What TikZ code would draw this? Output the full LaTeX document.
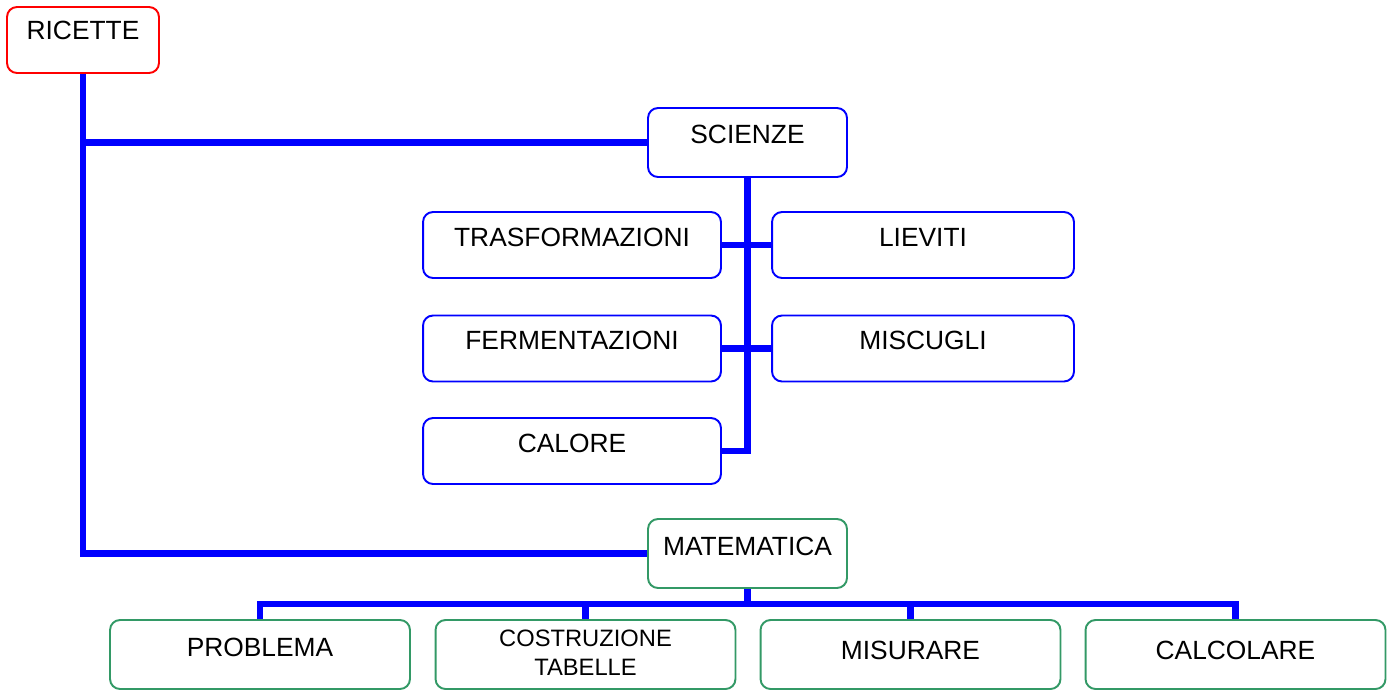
\documentclass[tikz,border=0pt]{standalone}
\usepackage{fontspec}
\setmainfont{Liberation Sans}
\usetikzlibrary{math}
\definecolor{myblue}{RGB}{0,0,255}
\definecolor{myred}{RGB}{255,0,0}
\definecolor{mygreen}{RGB}{51,153,102}

\begin{document}
\begin{tikzpicture}[x=0.02cm, y=-0.02cm]
\tikzset{
  box/.style={draw, fill=white, rounded corners=0.2cm, line width=1.1pt, inner sep=0pt,
    text height=0.68cm, text depth=0.64cm, font=\fontsize{15}{18}\selectfont},
  rootbox/.style={box, draw=myred, minimum width=3.04cm},
  scibox/.style={box, draw=myblue, minimum width=5.96cm},
  matbox/.style={box, draw=mygreen, minimum width=6cm, text height=0.74cm, text depth=0.64cm},
  link/.style={draw=myblue, line width=3.6pt},
}
\useasboundingbox (0,0) rectangle (1395,690);

% radice
\node[rootbox, text height=0.64cm, text depth=0.68cm] (ricette) at (83,40) {RICETTE};

% scienze
\node[scibox, minimum width=3.98cm, text height=0.7cm, text depth=0.68cm] (scienze) at (747.5,142.5) {SCIENZE};
\node[scibox] (trasformazioni) at (572,245) {TRASFORMAZIONI};
\node[scibox, minimum width=6.04cm] (lieviti) at (923,245) {LIEVITI};
\node[scibox] (fermentazioni) at (572,348.5) {FERMENTAZIONI};
\node[scibox, minimum width=6.04cm] (miscugli) at (923,348.5) {MISCUGLI};
\node[scibox] (calore) at (572,451) {CALORE};

% matematica
\node[matbox, minimum width=3.98cm, text height=0.72cm, text depth=0.66cm] (matematica) at (747.5,553.5) {MATEMATICA};
\node[matbox, text height=0.72cm, text depth=0.66cm] (problema) at (260,654.5) {PROBLEMA};
\node[matbox, align=center, font=\fontsize{13.5}{16.5}\selectfont, text height=1.1cm, text depth=0.28cm] (costruzione) at (585.5,654.5) {COSTRUZIONE\\TABELLE};
\node[matbox, text height=0.78cm, text depth=0.6cm] (misurare) at (910.5,654.5) {MISURARE};
\node[matbox, text height=0.78cm, text depth=0.6cm] (calcolare) at (1235.5,654.5) {CALCOLARE};

% collegamenti
\draw[link] (ricette.south) |- (matematica.west);
\draw[link] (ricette.south |- scienze.west) -- (scienze.west);
\draw[link] (scienze.south) |- (calore.east);
\draw[link] (trasformazioni.east) -- (lieviti.west);
\draw[link] (fermentazioni.east) -- (miscugli.west);

\coordinate (bus) at (0,604);
\draw[link] (matematica.south) -- (matematica.south |- bus);
\draw[link] (problema.north) -- (problema.north |- bus) -| (calcolare.north);
\foreach \n in {costruzione, misurare}
  \draw[link] (\n.north) -- (\n.north |- bus);
\end{tikzpicture}
\end{document}
